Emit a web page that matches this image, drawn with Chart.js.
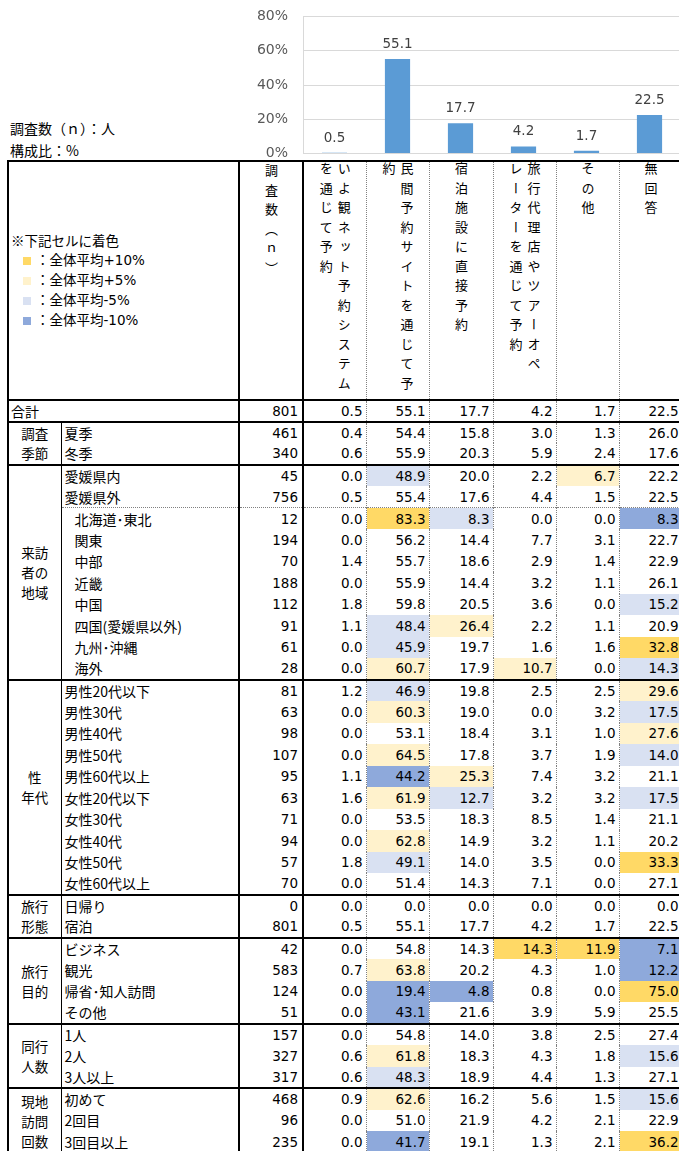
<!DOCTYPE html>
<html>
<head>
<meta charset="utf-8">
<script src="https://cdn.jsdelivr.net/npm/chart.js@4.4.0/dist/chart.umd.min.js"></script>
<style>
  body { margin: 0; width: 679px; height: 1151px; overflow: hidden; background: #fff; position: relative;
         font-family: "DejaVu Sans", "Noto Sans CJK JP", sans-serif; color: #000; }
  #chartBox { position: absolute; left: 0; top: -7px; width: 700px; height: 184px; z-index: 2; }
  .note { position: absolute; left: 10px; font: 14px "Noto Sans CJK JP"; line-height: 18px; }
  #tbl { position: absolute; left: 7px; top: 160px; border-collapse: collapse; table-layout: fixed; width: 674px;
         border-left: 2px solid #000; border-top: 2px solid #000; }
  #tbl td { padding: 0; white-space: nowrap; overflow: hidden; font-size: 13.5px; line-height: 16px; }
  #tbl tr.body { height: 21.5px; }
  #tbl tr.hdr { height: 236px; }
  tr.grp > td { border-top: 2px solid #000; }
  tr.dot > td { border-top: 1px dotted #808080; }
  td.g { border-right: 1.5px solid #000; text-align: center; vertical-align: middle;
         font: 14px "Noto Sans CJK JP"; line-height: 20px !important; white-space: pre !important; }
  td.lab { border-right: 2px solid #000; font-family: "Noto Sans CJK JP" !important; font-size: 14px !important; padding-left: 3px !important; }
  td.lab.top { padding-left: 2px !important; }
  td.lab.ind { padding-left: 13px !important; }
  td.n { border-right: 2px solid #000; text-align: right; padding-right: 4px !important; }
  td.v { border-right: 1px dotted #808080; text-align: right; padding-right: 3px !important; }
  td.legend { border-right: 2px solid #000; vertical-align: middle; padding-left: 2px !important;
              font: 13px "DejaVu Sans", "Noto Sans CJK JP"; line-height: 19px !important; }
  td.legend .jp { font-family: "Noto Sans CJK JP"; }
  td.legend .sq { display: inline-block; width: 8px; height: 8px; margin: 0 5px 0 12px; }
  td.nh { border-right: 2px solid #000; vertical-align: top; text-align: center; padding-top: 2px !important; }
  td.vh { border-right: 1px dotted #808080; vertical-align: top; text-align: center; padding-top: 0 !important; }
  .vt { display: inline-block; writing-mode: vertical-rl; text-orientation: upright; white-space: pre;
        font: 13px "Noto Sans CJK JP"; letter-spacing: 6.5px; line-height: 18px; text-align: left; }
  .dy { background: #FFD966; }
  .ly { background: #FFF2CC; }
  .lb { background: #D9E1F2; }
  .db { background: #8EA9DB; }
</style>
</head>
<body>
<div class="note" style="top:119px">調査数（ｎ）：人</div>
<div class="note" style="top:141px">構成比：%</div>
<div id="chartBox"><canvas id="chart" width="700" height="184"></canvas></div>
<table id="tbl"></table>
<script>
// column headers (line break where the original wraps)
const columnNames = [
    'いよ観ネット予約システム\nを通じて予約',
    '民間予約サイトを通じて予\n約',
    '宿泊施設に直接予約',
    '旅行代理店やツアーオペ\nレーターを通じて予約',
    'その他',
    '無回答'
];

// row labels, first row is the overall total
const rowLabels = ['合計', '夏季', '冬季', '愛媛県内', '愛媛県外', '北海道･東北', '関東', '中部', '近畿', '中国',
    '四国(愛媛県以外)', '九州･沖縄', '海外', '男性20代以下', '男性30代', '男性40代', '男性50代', '男性60代以上',
    '女性20代以下', '女性30代', '女性40代', '女性50代', '女性60代以上', '日帰り', '宿泊', 'ビジネス', '観光',
    '帰省･知人訪問', 'その他', '1人', '2人', '3人以上', '初めて', '2回目', '3回目以上'];
const subRegions = ['北海道･東北', '関東', '中部', '近畿', '中国', '四国(愛媛県以外)', '九州･沖縄', '海外'];

const groupNames = ['調査\n季節', '来訪\n者の\n地域', '性\n年代', '旅行\n形態', '旅行\n目的', '同行\n人数', '現地\n訪問\n回数'];
const groupSizes = [2, 10, 10, 2, 4, 3, 3];

const sampleSizes = [801, 461, 340, 45, 756, 12, 194, 70, 188, 112, 91, 61, 28, 81, 63, 98, 107, 95, 63, 71, 94, 57, 70,
    0, 801, 42, 583, 124, 51, 157, 327, 317, 468, 96, 235];

// one array per answer column
const iyokanNet = [0.5, 0.4, 0.6, 0.0, 0.5, 0.0, 0.0, 1.4, 0.0, 1.8, 1.1, 0.0, 0.0, 1.2, 0.0, 0.0, 0.0, 1.1, 1.6, 0.0, 0.0, 1.8, 0.0,
    0.0, 0.5, 0.0, 0.7, 0.0, 0.0, 0.0, 0.6, 0.6, 0.9, 0.0, 0.0];
const minkanSite = [55.1, 54.4, 55.9, 48.9, 55.4, 83.3, 56.2, 55.7, 55.9, 59.8, 48.4, 45.9, 60.7, 46.9, 60.3, 53.1, 64.5, 44.2, 61.9, 53.5, 62.8, 49.1, 51.4,
    0.0, 55.1, 54.8, 63.8, 19.4, 43.1, 54.8, 61.8, 48.3, 62.6, 51.0, 41.7];
const directBooking = [17.7, 15.8, 20.3, 20.0, 17.6, 8.3, 14.4, 18.6, 14.4, 20.5, 26.4, 19.7, 17.9, 19.8, 19.0, 18.4, 17.8, 25.3, 12.7, 18.3, 14.9, 14.0, 14.3,
    0.0, 17.7, 14.3, 20.2, 4.8, 21.6, 14.0, 18.3, 18.9, 16.2, 21.9, 19.1];
const travelAgency = [4.2, 3.0, 5.9, 2.2, 4.4, 0.0, 7.7, 2.9, 3.2, 3.6, 2.2, 1.6, 10.7, 2.5, 0.0, 3.1, 3.7, 7.4, 3.2, 8.5, 3.2, 3.5, 7.1,
    0.0, 4.2, 14.3, 4.3, 0.8, 3.9, 3.8, 4.3, 4.4, 5.6, 4.2, 1.3];
const otherWay = [1.7, 1.3, 2.4, 6.7, 1.5, 0.0, 3.1, 1.4, 1.1, 0.0, 1.1, 1.6, 0.0, 2.5, 3.2, 1.0, 1.9, 3.2, 3.2, 1.4, 1.1, 0.0, 0.0,
    0.0, 1.7, 11.9, 1.0, 0.0, 5.9, 2.5, 1.8, 1.3, 1.5, 2.1, 2.1];
const noAnswer = [22.5, 26.0, 17.6, 22.2, 22.5, 8.3, 22.7, 22.9, 26.1, 15.2, 20.9, 32.8, 14.3, 29.6, 17.5, 27.6, 14.0, 21.1, 17.5, 21.1, 20.2, 33.3, 27.1,
    0.0, 22.5, 7.1, 12.2, 75.0, 25.5, 27.4, 15.6, 27.1, 15.6, 22.9, 36.2];

const series = [iyokanNet, minkanSite, directBooking, travelAgency, otherWay, noAnswer];
const totals = series.map(s => s[0]);

const yTicks = [0, 20, 40, 60, 80];

// ---------- bar chart ----------
const barLabels = {
    id: 'barLabels',
    afterDatasetsDraw(chart) {
        const ctx = chart.ctx;
        const meta = chart.getDatasetMeta(0);
        ctx.save();
        ctx.font = '13.5px "DejaVu Sans"';
        ctx.fillStyle = '#404040';
        ctx.textAlign = 'center';
        ctx.textBaseline = 'alphabetic';
        meta.data.forEach((bar, i) => {
            ctx.fillText(totals[i].toFixed(1), bar.x, bar.y - 11);
        });
        ctx.restore();
    }
};

const chart = new Chart(document.getElementById('chart').getContext('2d'), {
    type: 'bar',
    data: {
        labels: columnNames,
        datasets: [{
            data: totals,
            backgroundColor: '#5B9BD5',
            barPercentage: 0.4,
            categoryPercentage: 1
        }]
    },
    options: {
        responsive: false,
        animation: false,
        layout: { padding: { top: 8, right: 19, bottom: 8, left: 0 } },
        plugins: { legend: { display: false }, tooltip: { enabled: false } },
        scales: {
            x: { display: false },
            y: {
                min: 0, max: 80,
                afterBuildTicks: s => { s.ticks = yTicks.map(v => ({ value: v })); },
                afterFit: s => { s.width = 303; },
                ticks: {
                    callback: v => v + '%',
                    padding: 15,
                    color: '#595959',
                    font: { family: 'DejaVu Sans', size: 14 }
                },
                grid: { color: '#d9d9d9', drawTicks: false },
                border: { color: '#d9d9d9' }
            }
        }
    },
    plugins: [barLabels]
});

// ---------- table ----------
function shade(value, row, col) {
    if (row === 0 || sampleSizes[row] === 0) return '';
    const diff = Math.round((value - totals[col]) * 10) / 10;
    if (diff >= 10) return 'dy';
    if (diff >= 5) return 'ly';
    if (diff <= -10) return 'db';
    if (diff <= -5) return 'lb';
    return '';
}

let html = '<colgroup>' + [53, 178, 64, 63, 63, 64, 63, 63, 63].map(w => `<col style="width:${w}px">`).join('') + '</colgroup>';

html += '<tr class="hdr"><td colspan="2" class="legend">' +
    '<div class="jp">※下記セルに着色</div>' +
    '<div><span class="sq dy"></span><span class="jp">：全体平均</span>+10%</div>' +
    '<div><span class="sq ly"></span><span class="jp">：全体平均</span>+5%</div>' +
    '<div><span class="sq lb"></span><span class="jp">：全体平均</span>-5%</div>' +
    '<div><span class="sq db"></span><span class="jp">：全体平均</span>-10%</div>' +
    '</td><td class="nh"><div class="vt">調査数（ｎ）</div></td>' +
    columnNames.map(c => `<td class="vh"><div class="vt">${c}</div></td>`).join('') + '</tr>';

const groupStart = {};
let r = 1;
groupNames.forEach((g, i) => { groupStart[r] = i; r += groupSizes[i]; });

rowLabels.forEach((label, i) => {
    const cls = ['body'];
    if (i === 0 || groupStart[i] !== undefined) cls.push('grp');
    if (label === subRegions[0]) cls.push('dot');
    let tr = `<tr class="${cls.join(' ')}">`;
    if (i === 0) {
        tr += `<td colspan="2" class="lab top">${label}</td>`;
    } else {
        if (groupStart[i] !== undefined) {
            const gi = groupStart[i];
            tr += `<td class="g" rowspan="${groupSizes[gi]}">${groupNames[gi]}</td>`;
        }
        tr += `<td class="lab${subRegions.includes(label) ? ' ind' : ''}">${label}</td>`;
    }
    tr += `<td class="n">${sampleSizes[i]}</td>`;
    series.forEach((s, c) => {
        tr += `<td class="v ${shade(s[i], i, c)}">${s[i].toFixed(1)}</td>`;
    });
    html += tr + '</tr>';
});

document.getElementById('tbl').innerHTML = html;
</script>
</body>
</html>
